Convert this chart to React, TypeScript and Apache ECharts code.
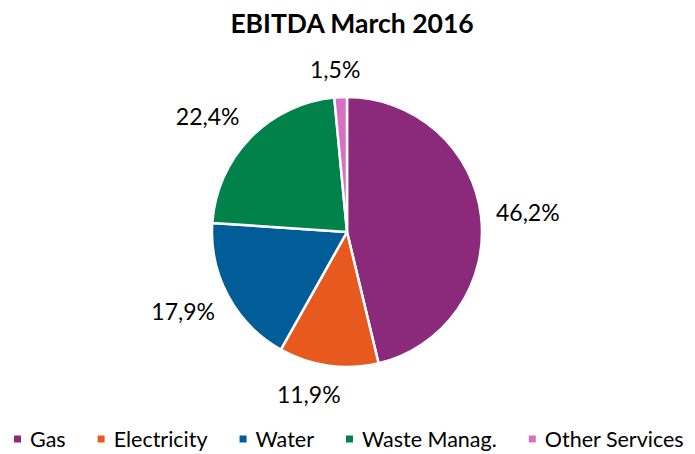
import React, { useEffect, useRef } from "react";
import * as echarts from "echarts";

const categories = ["Gas", "Electricity", "Water", "Waste Manag.", "Other Services"];
const values = [46.2, 11.9, 17.9, 22.4, 1.5];
const colors = ["#8B2A7A", "#E8591F", "#005D97", "#00824A", "#D670C2"];

const CX = 339;
const CY = 224;
const R = 135;

export default function App() {
  const ref = useRef<HTMLDivElement>(null);
  useEffect(() => {
    const chart = echarts.init(ref.current!, null, { renderer: "svg" });
    const total = values.reduce((a, b) => a + b, 0);
    const mids: number[] = [];
    let acc = 0;
    values.forEach((v) => {
      mids.push(((acc + v / 2) / total) * Math.PI * 2);
      acc += v;
    });
    const clamp = (v: number) => Math.max(-1, Math.min(1, v));
    chart.setOption({
      animation: false,
      textStyle: { fontFamily: "Lato" },
      title: {
        text: "EBITDA March 2016",
        left: CX,
        textAlign: "center",
        top: -4,
        textStyle: { fontSize: 26.5, fontWeight: "bold", color: "#000", fontFamily: "Lato" },
      },
      legend: {
        top: 420,
        left: 4,
        padding: 0,
        itemWidth: 9,
        itemHeight: 9,
        itemGap: 30,
        icon: "rect",
        textStyle: { fontSize: 21.5, color: "#000", fontFamily: "Lato", padding: [0, 0, 0, 3] },
        data: categories,
      },
      series: [
        {
          type: "pie",
          center: [CX, CY],
          radius: R,
          startAngle: 90,
          clockwise: true,
          avoidLabelOverlap: false,
          itemStyle: { borderColor: "#fff", borderWidth: 2.5 },
          label: {
            show: true,
            position: "outside",
            fontSize: 23,
            color: "#000",
            fontFamily: "Lato",
            formatter: (p: any) => p.value.toFixed(1).replace(".", ",") + "%",
          },
          labelLine: { show: false, length: 14, length2: 0 },
          labelLayout: (params: any) => {
            const a = mids[params.dataIndex];
            const ux = Math.sin(a);
            const uy = -Math.cos(a);
            const w = params.labelRect.width;
            const h = 26;
            const ax = CX + ux * (R + 15);
            const ay = CY + uy * (R + 15);
            return {
              x: ax + clamp(ux * 4) * (w / 2),
              y: ay + clamp(uy * 1.3) * (h / 2),
              align: "center",
              verticalAlign: "middle",
            };
          },
          data: categories.map((c, i) => ({
            name: c,
            value: values[i],
            itemStyle: { color: colors[i] },
          })),
        },
      ],
    });
    return () => chart.dispose();
  }, []);
  return <div ref={ref} style={{ width: 687, height: 446 }} />;
}
